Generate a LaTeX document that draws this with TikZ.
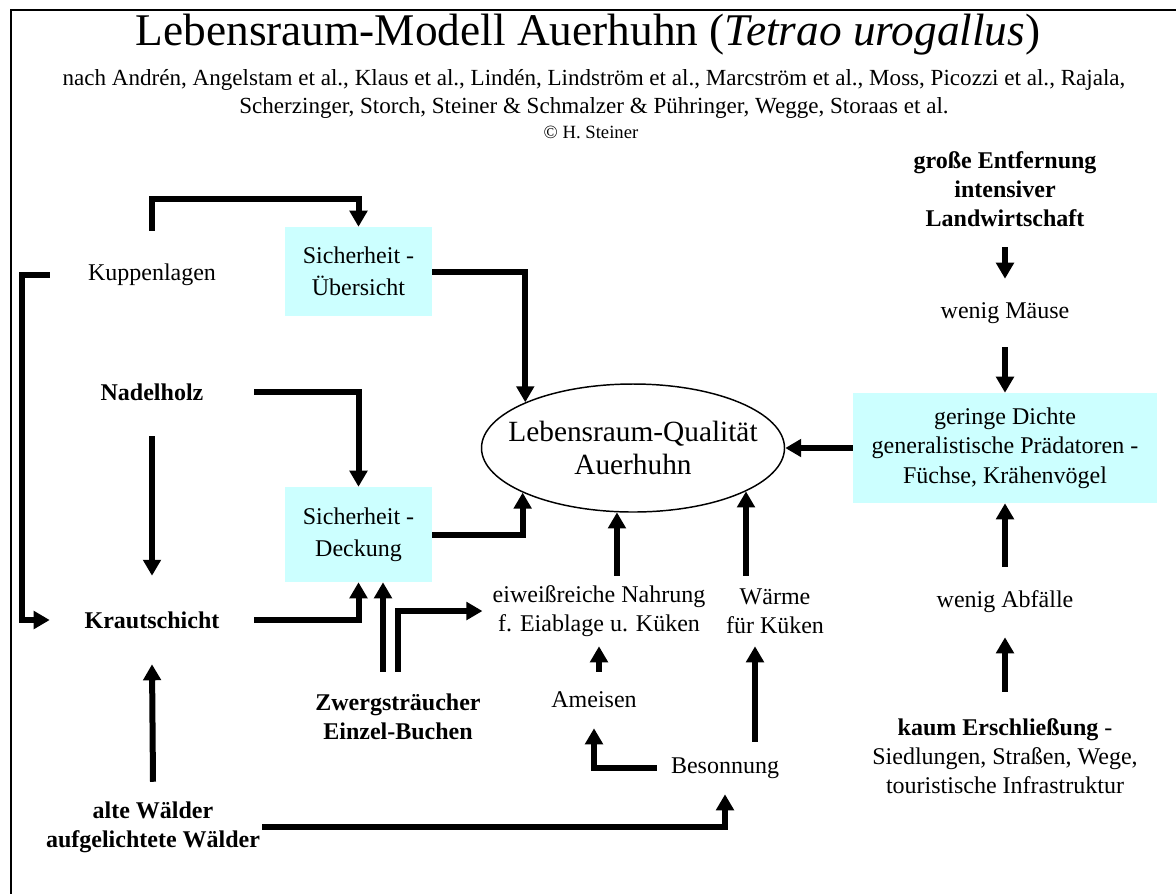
\documentclass[tikz,border=0pt]{standalone}
\usepackage{fontspec}
\setmainfont{Liberation Serif}
\usetikzlibrary{positioning,shapes.geometric,arrows.meta}
\definecolor{hellcyan}{HTML}{CCFFFF}

\begin{document}
\begin{tikzpicture}[%
x=0.75pt,y=-0.75pt,
>={Triangle[length=12pt,width=13pt]},
pil/.style={
->,
line width=4.5pt,},
txt/.style={align=center,inner sep=0pt,font=\fontsize{18}{22}\selectfont},
fett/.style={txt,font=\fontsize{18}{22}\selectfont\bfseries},
links/.style={minimum width=153pt,minimum height=66pt},
kasten/.style={txt,fill=hellcyan,font=\fontsize{18}{24}\selectfont}
]
\useasboundingbox (0,0) rectangle (1176,894);
\draw[line width=2pt] (1176,10) -| (11,894);

% Titel
\node[txt,font=\fontsize{34}{40}\selectfont] (titel) at (588,35) {Lebensraum-Modell Auerhuhn (\textit{Tetrao urogallus})};
\node[txt,font=\fontsize{17.3}{21}\selectfont] (quellen) at (594,94) {nach Andrén, Angelstam et al., Klaus et al., Lindén, Lindström et al., Marcström et al., Moss, Picozzi et al., Rajala,\\Scherzinger, Storch, Steiner \& Schmalzer \& Pühringer, Wegge, Storaas et al.};
\node[txt,font=\fontsize{14}{17}\selectfont] (copy) at (591,132) {© H. Steiner};

% linke Spalte
\node[txt,links] (kup) at (152,275) {Kuppenlagen};
\node[fett,links] (nad) at (152,392) {Nadelholz};
\node[fett,links] (kraut) at (152,620) {Krautschicht};
\node[fett,minimum height=67.5pt,inner xsep=1.5pt] (alt) at (153,827) {alte Wälder\\aufgelichtete Wälder};

% Sicherheit
\node[kasten,minimum width=110.25pt,minimum height=66.75pt] (ueb) at (358.5,271.5) {Sicherheit -\\Übersicht};
\node[kasten,minimum width=110.25pt,minimum height=71.25pt] (deck) at (358.5,534.5) {Sicherheit -\\Deckung};
\node[fett,minimum height=67.5pt] (zwerg) at (398,717) {Zwergsträucher\\Einzel-Buchen};

% Mitte
\node[ellipse,draw,line width=1.1pt,minimum width=227.25pt,minimum height=96pt,inner sep=0pt,
label={[txt,font=\fontsize{22}{25}\selectfont]center:Lebensraum-Qualität\\Auerhuhn}] (qual) at (633,448) {};
\node[txt,minimum height=52.5pt,inner xsep=7.5pt] (eiw) at (599,611) {eiweißreiche Nahrung\\f. Eiablage u. Küken};
\node[txt,minimum height=52.5pt] (waerm) at (775,611) {Wärme\\für Küken};
\node[txt,minimum height=42pt] (ame) at (594,700) {Ameisen};
\node[txt,minimum height=39pt,inner xsep=10.5pt] (bes) at (725,768) {Besonnung};

% rechte Spalte
\node[fett,minimum height=87pt] (gross) at (1005,189) {große Entfernung\\intensiver\\Landwirtschaft};
\node[txt,minimum height=51pt] (maus) at (1005,313) {wenig Mäuse};
\node[kasten,font=\fontsize{18}{22}\selectfont,minimum width=228pt,minimum height=82.5pt] (praed) at (1005,448) {geringe Dichte\\generalistische Prädatoren -\\Füchse, Krähenvögel};
\node[txt,minimum height=52.5pt] (abf) at (1005,602) {wenig Abfälle};
\node[txt,minimum height=96pt] (kaum) at (1005,756) {\textbf{kaum Erschließung} -\\Siedlungen, Straßen, Wege,\\touristische Infrastruktur};

% Pfeile
\draw[pil] (kup.north) -- ++(0,-32) -| (ueb.north);
\draw[pil] (kup.west) -- ++(-28,0) |- (kraut.west);
\draw[pil] (nad.east) -| (deck.north);
\draw[pil] (nad.south) -- (kraut.north);
\draw[pil] (alt.north) -- (kraut.south);
\draw[pil] (kraut.east) -| (deck.south);
\draw[pil] ([xshift=-11.25pt]zwerg.north) -- ([xshift=-11.25pt]zwerg.north |- deck.south);
\draw[pil] (zwerg.north) |- (eiw.west);
\draw[pil] (ueb.east) -| (qual.157.5);
\draw[pil] (deck.east) -| (qual.202.5);
\draw[pil] (qual.256.75 |- eiw.north) -- (qual.256.75);
\draw[pil] (qual.339.4 |- waerm.north) -- (qual.339.4);
\draw[pil] (ame.north -| eiw.south) -- (eiw.south);
\draw[pil] (bes.west) -| (ame.south);
\draw[pil] ([xshift=22.5pt]bes.north) -- ([xshift=22.5pt]bes.north |- waerm.south);
\draw[pil] (alt.east) -| (bes.south);
\draw[pil] (gross.south) -- (maus.north);
\draw[pil] (maus.south) -- (praed.north);
\draw[pil] (praed.west) -- (qual.east);
\draw[pil] (abf.north) -- (praed.south);
\draw[pil] (kaum.north) -- (abf.south);
\end{tikzpicture}
\end{document}
